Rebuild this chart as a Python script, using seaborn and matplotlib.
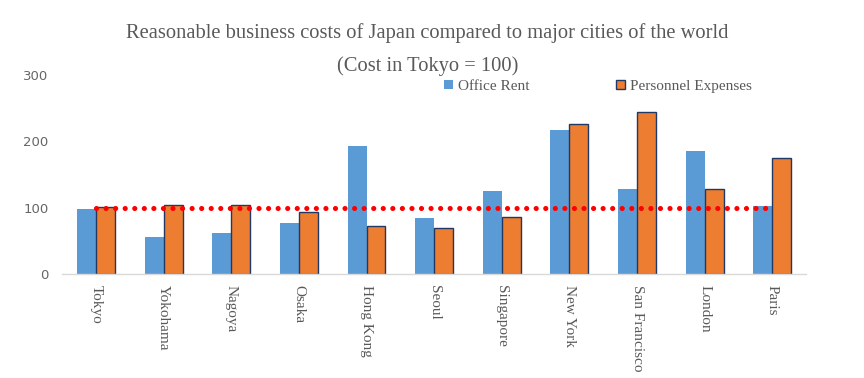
import numpy as np
import pandas as pd
import matplotlib
matplotlib.use("Agg")
import matplotlib.pyplot as plt
import matplotlib.patches as mpatches
import seaborn as sns

# values (Tokyo = 100)
cities = ["Tokyo", "Yokohama", "Nagoya", "Osaka", "Hong Kong", "Seoul",
          "Singapore", "New York", "San Francisco", "London", "Paris"]
office_rent = [98, 56, 62, 77, 193, 85, 125, 217, 128, 186, 103]
personnel = [101, 104, 104, 93, 72, 69, 86, 226, 244, 128, 175]
tokyo_level = [100] * len(cities)
series_names = ["Office Rent", "Personnel Expenses"]

blue = "#5b9bd5"
orange = "#ed7d31"
navy = "#1f3864"
grey = "#595959"

df = pd.DataFrame({
    "city": cities * 2,
    "cost": office_rent + personnel,
    "series": [series_names[0]] * len(cities) + [series_names[1]] * len(cities),
})

sns.set_style("white")
plt.rcParams["font.family"] = ["Liberation Serif", "DejaVu Serif"]

fig = plt.figure(figsize=(8.64, 3.78), dpi=100)
ax = fig.add_axes([0.072, 0.275, 0.861, 0.527])

sns.barplot(data=df, x="city", y="cost", hue="series", order=cities,
            hue_order=series_names, palette=[blue, orange], width=0.56,
            gap=0, saturation=1, legend=False, ax=ax)

# orange bars carry a dark outline, blue ones none
for bar in ax.containers[0]:
    bar.set_edgecolor("none")
for bar in ax.containers[1]:
    bar.set_edgecolor(navy)
    bar.set_linewidth(1.0)

# Tokyo = 100 reference line
sns.lineplot(x=np.arange(len(cities)), y=tokyo_level, color="#ff0000",
             linewidth=3.7, linestyle=(0, (0.01, 1.85)), ax=ax, zorder=5)
ax.lines[-1].set_dash_capstyle("round")

ax.set_ylim(0, 300)
ax.set_xlim(-0.5, len(cities) - 0.5)
ax.set_yticks([0, 100, 200, 300])
ax.set_xlabel("")
ax.set_ylabel("")

for side in ["top", "right", "left"]:
    ax.spines[side].set_visible(False)
ax.spines["bottom"].set_color("#d9d9d9")
ax.spines["bottom"].set_linewidth(1)

ax.set_xticks(np.arange(len(cities)))
ax.set_xticklabels(cities, rotation=-90, va="top", ha="center")
ax.set_xticks(np.arange(len(cities) + 1) - 0.5, minor=True)
ax.tick_params(axis="x", which="major", length=0, pad=8, labelsize=11, labelcolor=grey)
ax.tick_params(axis="x", which="minor", length=4, direction="in", color="#d9d9d9")
ax.tick_params(axis="y", length=0, pad=10, labelsize=9.5, labelcolor="#666666")
for lab in ax.get_yticklabels():
    lab.set_fontfamily(["DejaVu Sans"])

handles = [mpatches.Patch(facecolor=blue, edgecolor="none", label=series_names[0]),
           mpatches.Patch(facecolor=orange, edgecolor=navy, linewidth=1, label=series_names[1])]
fig.legend(handles=handles, loc="center", bbox_to_anchor=(0.692, 0.772), ncol=2,
           frameon=False, fontsize=11, labelcolor=grey, handlelength=0.6,
           handleheight=0.6, handletextpad=0.3, columnspacing=5.7)

fig.text(0.495, 0.912, "Reasonable business costs of Japan compared to major cities of the world",
         ha="center", va="center", fontsize=14.8, color=grey)
fig.text(0.495, 0.826, "(Cost in Tokyo = 100)", ha="center", va="center",
         fontsize=14.8, color=grey)

fig.savefig("out.png", dpi=100)
